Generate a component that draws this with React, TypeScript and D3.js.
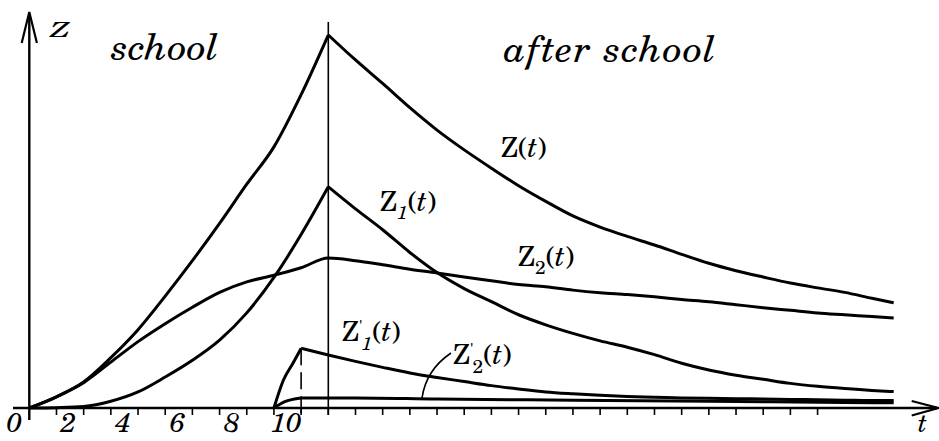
import React from "react";
import * as d3 from "d3";

// ---- data ----
const tMain = [0, 1, 2, 3, 4, 5, 6, 7, 8, 9, 10, 11, 12, 13, 14, 15, 16, 17, 18, 19, 20, 21, 22, 23, 24, 25, 26, 27, 28, 29, 30, 31, 31.8];
const zValues = [0, 3, 7, 13.5, 21, 30, 39.5, 49.5, 60, 70, 84, 100, 93.3, 87, 80.5, 74.5, 69.2, 64.3, 59.6, 55.4, 51.5, 48.5, 46, 43.7, 41.2, 38.8, 36.8, 35.1, 33.5, 32.2, 31.0, 29.4, 28.2];
const z1Values = [0, 0.1, 0.4, 1.8, 4.3, 8.3, 12.8, 18.2, 25.5, 35, 46.5, 59.3, 53.4, 47.8, 41.7, 36.3, 32.0, 28.5, 25.0, 22.3, 20.0, 18.0, 16.3, 14.3, 12.0, 10.2, 8.8, 7.7, 6.6, 5.8, 5.2, 4.7, 4.4];
const z2Values = [0, 3, 6.8, 12.3, 17.8, 22.6, 27.0, 31.0, 33.8, 35.6, 37.6, 40.2, 39.5, 38.4, 37.2, 36.2, 35.1, 34.1, 33.1, 32.5, 31.6, 30.9, 30.4, 29.8, 29.1, 28.5, 27.7, 26.9, 26.2, 25.5, 25.0, 24.5, 24.1];

const tPrime1 = [9, 9.35, 9.7, 10, 11, 12, 13, 14, 15, 16, 17, 18, 19, 20, 21, 22, 23, 24, 25, 26, 27, 28, 29, 30, 31, 31.8];
const zPrime1Values = [0, 7.5, 12, 16, 14.2, 12.5, 10.9, 9.4, 8.2, 7.1, 6.0, 5.1, 4.3, 3.8, 3.4, 3.1, 2.9, 2.7, 2.6, 2.5, 2.4, 2.3, 2.2, 2.1, 2.0, 2.0];
const tPrime2 = [9, 9.4, 10, 12, 15, 20, 25, 30, 31.8];
const zPrime2Values = [0, 1.7, 2.7, 2.7, 2.4, 2.1, 1.8, 1.5, 1.4];

const tickValues = d3.range(1, 30);
const tickLabels = [0, 2, 4, 6, 8, 10];
const schoolEnd = 11;
const dashAt = 10;

// ---- scales ----
const x = d3.scaleLinear().domain([0, 11]).range([29.3, 328.3]);
const y = d3.scaleLinear().domain([0, 100]).range([408, 35]);

const lineGen = d3
  .line<[number, number]>()
  .x((d) => x(d[0]))
  .y((d) => y(d[1]))
  .curve(d3.curveMonotoneX);

function pieces(ts: number[], vs: number[], splits: number[]): string[] {
  const pts: [number, number][] = ts.map((t, i) => [t, vs[i]]);
  const bounds = [-Infinity, ...splits, Infinity];
  const out: string[] = [];
  for (let i = 0; i < bounds.length - 1; i++) {
    const seg = pts.filter((p) => p[0] >= bounds[i] && p[0] <= bounds[i + 1]);
    if (seg.length > 1) out.push(lineGen(seg) || "");
  }
  return out;
}

const css = `
.ser { font-family: "TeX Gyre Schola", "Noto Serif", "DejaVu Serif"; font-style: normal; }
.ita { font-family: "TeX Gyre Schola", "Noto Serif", "DejaVu Serif"; font-style: italic; }
.tick { font-family: "TeX Gyre Schola", "Liberation Serif", "Noto Serif"; font-style: italic; }
`;

export default function App() {
  const curves = [
    ...pieces(tMain, zValues, [schoolEnd]),
    ...pieces(tMain, z1Values, [schoolEnd]),
    ...pieces(tMain, z2Values, []),
    ...pieces(tPrime1, zPrime1Values, [dashAt]),
    ...pieces(tPrime2, zPrime2Values, [dashAt]),
  ];
  const axisY = y(0);
  const x0 = x(0);
  const tI = <tspan className="ita">t</tspan>;
  return (
    <svg width={939} height={441} style={{ position: "absolute", left: 0, top: 0, background: "#fff" }}>
      <style>{css}</style>
      <rect width={939} height={441} fill="#fff" />
      {/* vertical school/after-school divider */}
      <line x1={x(schoolEnd)} x2={x(schoolEnd)} y1={22} y2={axisY + 7} stroke="#000" strokeWidth={1.6} />
      {/* dashed line */}
      <line
        x1={x(dashAt)}
        x2={x(dashAt)}
        y1={y(16)}
        y2={axisY + 7}
        stroke="#000"
        strokeWidth={1.6}
        strokeDasharray="17 7"
      />
      {/* curves */}
      {curves.map((d, i) => (
        <path key={i} d={d} fill="none" stroke="#000" strokeWidth={3} strokeLinejoin="miter" />
      ))}
      {/* axes */}
      <line x1={13} x2={937} y1={axisY} y2={axisY} stroke="#000" strokeWidth={2.4} />
      <line x1={x0} x2={x0} y1={420} y2={13} stroke="#000" strokeWidth={2.4} />
      <path d={`M${x0 - 7.6},43 L${x0},12 L${x0 + 7.6},43`} fill="none" stroke="#000" strokeWidth={2.2} />
      <path d={`M911.7,401 L938.3,${axisY} L911.7,415.5`} fill="none" stroke="#000" strokeWidth={2.2} />
      {/* ticks */}
      {tickValues.map((t) => (
        <line key={t} x1={x(t)} x2={x(t)} y1={axisY} y2={axisY + 7} stroke="#000" strokeWidth={1.6} />
      ))}
      {tickLabels.map((t) => (
        <text key={t} className="tick" x={x(t) - 15} y={432} fontSize={28} textAnchor="middle">
          {t}
        </text>
      ))}
      <text className="ita" x={918} y={432} fontSize={26}>t</text>
      {/* titles */}
      <text className="ita" x={50} y={37} fontSize={21} textLength={20} lengthAdjust="spacingAndGlyphs">Z</text>
      <text className="ita" x={111} y={60} fontSize={38} textLength={108} lengthAdjust="spacing">school</text>
      <text className="ita" x={504} y={62} fontSize={38} textLength={212} lengthAdjust="spacing">after school</text>
      {/* curve labels */}
      <text className="ser" x={501} y={157} fontSize={28}>
        Z({tI})
      </text>
      <text className="ser" x={380} y={211} fontSize={28}>
        Z<tspan dy={8} fontSize={19} className="ita">1</tspan>
        <tspan dy={-8}>({tI})</tspan>
      </text>
      <text className="ser" x={518} y={266} fontSize={28}>
        Z<tspan dy={8} fontSize={19}>2</tspan>
        <tspan dy={-8}>({tI})</tspan>
      </text>
      <text className="ser" x={342} y={341} fontSize={28}>
        Z<tspan dy={-8} fontSize={17}>'</tspan>
        <tspan dx={-1} dy={17} fontSize={19} className="ita">1</tspan>
        <tspan dy={-9}>({tI})</tspan>
      </text>
      <text className="ser" x={453} y={364} fontSize={28}>
        Z<tspan dy={-8} fontSize={17}>'</tspan>
        <tspan dx={-1} dy={17} fontSize={19}>2</tspan>
        <tspan dy={-9}>({tI})</tspan>
      </text>
      {/* leader for Z'2 */}
      <path d="M451,353 Q426,370 422,398" fill="none" stroke="#000" strokeWidth={1.6} />
    </svg>
  );
}
